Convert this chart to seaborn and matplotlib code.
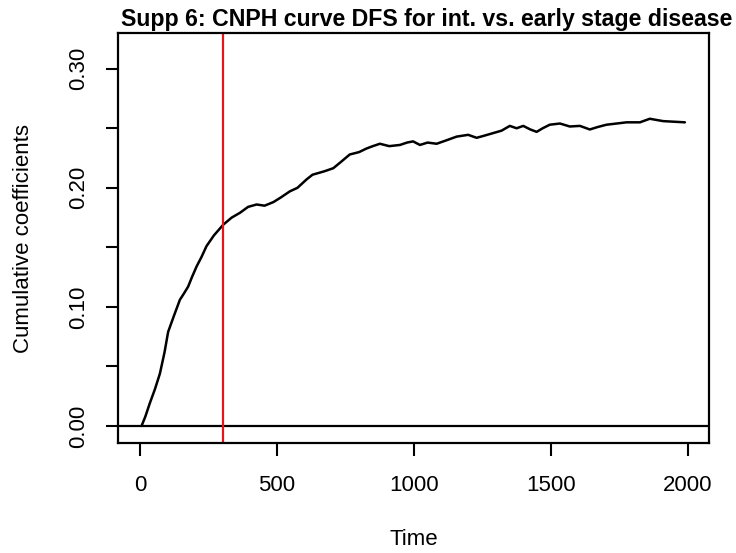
import matplotlib
matplotlib.use("Agg")
import matplotlib.pyplot as plt
import numpy as np
import pandas as pd
import seaborn as sns

# cumulative coefficient curve
time = [6, 20, 36, 55, 73, 90, 103, 125, 146, 160, 176, 190, 207, 225, 243, 270, 304,
        335, 365, 395, 426, 455, 487, 515, 547, 575, 608, 630, 645, 675, 706, 735, 766,
        800, 827, 850, 876, 910, 949, 975, 997, 1022, 1050, 1083, 1120, 1156, 1198,
        1229, 1260, 1290, 1320, 1350, 1375, 1399, 1425, 1448, 1470, 1496, 1533, 1569,
        1606, 1642, 1670, 1703, 1740, 1776, 1825, 1861, 1885, 1910, 1950, 1989]
coef = [0.000, 0.008, 0.019, 0.031, 0.044, 0.062, 0.079, 0.093, 0.106, 0.111, 0.117,
        0.125, 0.134, 0.142, 0.151, 0.160, 0.169, 0.175, 0.179, 0.184, 0.186, 0.185,
        0.188, 0.192, 0.197, 0.200, 0.207, 0.211, 0.212, 0.214, 0.2165, 0.222, 0.228,
        0.230, 0.233, 0.235, 0.237, 0.235, 0.236, 0.238, 0.239, 0.236, 0.238, 0.237,
        0.240, 0.243, 0.2445, 0.242, 0.244, 0.246, 0.248, 0.252, 0.250, 0.252, 0.249,
        0.247, 0.250, 0.253, 0.254, 0.2515, 0.252, 0.249, 0.251, 0.253, 0.254, 0.255,
        0.255, 0.258, 0.257, 0.256, 0.2555, 0.255]
cutoff_time = 305

x_ticks = [0, 500, 1000, 1500, 2000]
y_ticks = [0.00, 0.05, 0.10, 0.15, 0.20, 0.25, 0.30]
y_tick_labels = ["0.00", "", "0.10", "", "0.20", "", "0.30"]

sns.set_style("ticks")
plt.rcParams["font.family"] = ["Liberation Sans", "DejaVu Sans"]
plt.rcParams["text.color"] = "black"
plt.rcParams["axes.labelcolor"] = "black"
plt.rcParams["xtick.color"] = "black"
plt.rcParams["ytick.color"] = "black"

df = pd.DataFrame({"Time": time, "coef": coef})

fig = plt.figure(figsize=(7.36, 5.53), dpi=100)
ax = fig.add_axes([0.1603, 0.1989, 0.8030, 0.7414])

sns.lineplot(data=df, x="Time", y="coef", color="black", linewidth=1.8, ax=ax,
             estimator=None, sort=False)
ax.axhline(0, color="black", linewidth=1.6)
ax.axvline(cutoff_time, color="#e8141b", linewidth=1.6)

ax.set_xlim(-80, 2077)
ax.set_ylim(-0.0143, 0.330)
ax.set_xticks(x_ticks)
ax.set_yticks(y_ticks)
ax.set_yticklabels(y_tick_labels, rotation=90, va="center")
ax.tick_params(axis="both", labelsize=16, length=9, width=1.5, colors="black")
ax.tick_params(axis="x", pad=14)
ax.tick_params(axis="y", pad=12)

for spine in ax.spines.values():
    spine.set_visible(True)
    spine.set_linewidth(1.6)
    spine.set_color("black")

ax.set_xlabel("Time", fontsize=16, labelpad=24)
ax.set_ylabel("Cumulative coefficients", fontsize=16, labelpad=24)
ax.set_title("Supp 6: CNPH curve DFS for int. vs. early stage disease",
             fontsize=16.7, fontweight="bold", pad=5, x=0.522)

fig.savefig("out.png", dpi=100)
